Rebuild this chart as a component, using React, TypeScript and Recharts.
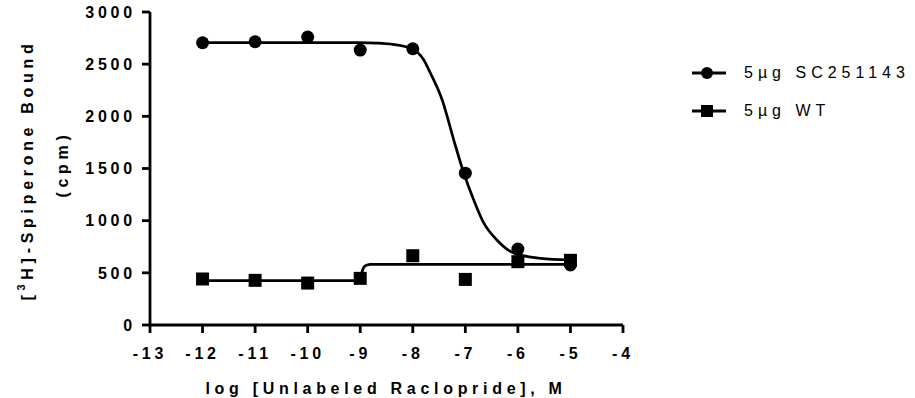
import React from 'react';
import { ComposedChart, Line, Scatter, XAxis, YAxis, Label } from 'recharts';

// measured points
const doses = [-12, -11, -10, -9, -8, -7, -6, -5];
const sc251143 = [2705, 2715, 2760, 2635, 2648, 1455, 728, 575];
const wildType = [441, 428, 402, 447, 664, 437, 607, 620];

// fitted curves
const scFitX = [-12, -9, -8.7, -8.43, -8.05, -7.79, -7.67, -7.44, -7.22, -7.03, -6.84, -6.65, -6.4, -6.08, -5.57, -5];
const scFitY = [2706, 2706, 2702, 2693, 2655, 2540, 2420, 2157, 1773, 1457, 1198, 978, 815, 690, 639, 623];
const wtFitX = [-12, -9, -8.97, -8.93, -8.87, -8.8, -5];
const wtFitY = [425, 425, 500, 555, 576, 582, 582];

const xTicks = [-13, -12, -11, -10, -9, -8, -7, -6, -5, -4];
const yTicks = [0, 500, 1000, 1500, 2000, 2500, 3000];

const seriesNames = ['5µg SC251143', '5µg WT'];

const scPoints = doses.map((x, i) => ({ x, y: sc251143[i] }));
const wtPoints = doses.map((x, i) => ({ x, y: wildType[i] }));
const scFit = scFitX.map((x, i) => ({ x, y: scFitY[i] }));
const wtFit = wtFitX.map((x, i) => ({ x, y: wtFitY[i] }));

const FONT = 'Arial, "Liberation Sans", Helvetica, sans-serif';

const CircleDot = (props: any) => <circle cx={props.cx} cy={props.cy} r={6.5} fill="#000" />;
const SquareDot = (props: any) => (
  <rect x={props.cx - 6.5} y={props.cy - 6.5} width={13} height={13} fill="#000" />
);

// legend sits outside the plot, right-hand side
function ChartLegend() {
  return (
    <div
      style={{
        position: 'absolute',
        left: 690,
        top: 54,
        fontFamily: FONT,
        fontSize: 16,
        letterSpacing: 5,
        color: '#000',
        whiteSpace: 'nowrap',
      }}
    >
      {seriesNames.map((name, i) => (
        <div key={name} style={{ display: 'flex', alignItems: 'center', height: 38 }}>
          <svg width={40} height={20} style={{ marginRight: 14 }}>
            <line x1={2} y1={10} x2={36} y2={10} stroke="#000" strokeWidth={3} />
            {i === 0 ? (
              <circle cx={17} cy={10} r={6} fill="#000" />
            ) : (
              <rect x={11} y={4} width={12} height={12} fill="#000" />
            )}
          </svg>
          <span>{name}</span>
        </div>
      ))}
    </div>
  );
}

const tickStyle = { fill: '#000', fontFamily: FONT, fontSize: 16, fontWeight: 'bold', letterSpacing: 3.8 };

export default function App() {
  return (
    <div style={{ position: 'absolute', left: 0, top: 0, width: 915, height: 398, background: '#fff' }}>
      <ComposedChart
        width={915}
        height={398}
        margin={{ top: 12, right: 292, left: 0, bottom: 0 }}
      >
        <XAxis
          type="number"
          dataKey="x"
          domain={[-13, -4]}
          ticks={xTicks}
          interval={0}
          allowDuplicatedCategory={false}
          height={73}
          stroke="#000"
          strokeWidth={2.8}
          tickSize={8}
          tickMargin={15}
          tickLine={{ stroke: '#000', strokeWidth: 2.8 }}
          tick={tickStyle}
        >
          <Label
            content={() => (
              <text
                x={386}
                y={394}
                textAnchor="middle"
                fontFamily={FONT}
                fontSize={16}
                fontWeight="bold"
                letterSpacing={4.7}
                fill="#000"
              >
                log [Unlabeled Raclopride], M
              </text>
            )}
          />
        </XAxis>
        <YAxis
          type="number"
          dataKey="y"
          domain={[0, 3000]}
          ticks={yTicks}
          interval={0}
          width={150}
          stroke="#000"
          strokeWidth={2.8}
          tickSize={8}
          tickMargin={6}
          tickLine={{ stroke: '#000', strokeWidth: 2.8 }}
          tick={tickStyle}
        >
          <Label
            content={() => (
              <g fontFamily={FONT} fontSize={16} fontWeight="bold" fill="#000" letterSpacing={4.7}>
                <text x={27} y={170} textAnchor="middle" dominantBaseline="central" transform="rotate(-90, 27, 170)">
                  [<tspan baselineShift="super" fontSize={11}>3</tspan>H]-Spiperone Bound
                </text>
                <text x={62} y={164} textAnchor="middle" dominantBaseline="central" transform="rotate(-90, 62, 164)">
                  (cpm)
                </text>
              </g>
            )}
          />
        </YAxis>
        <Line
          data={scFit}
          dataKey="y"
          name={seriesNames[0]}
          type="monotone"
          stroke="#000"
          strokeWidth={2.7}
          dot={false}
          activeDot={false}
          legendType="none"
          isAnimationActive={false}
        />
        <Line
          data={wtFit}
          dataKey="y"
          name={seriesNames[1]}
          type="monotone"
          stroke="#000"
          strokeWidth={2.7}
          dot={false}
          activeDot={false}
          legendType="none"
          isAnimationActive={false}
        />
        <Scatter data={scPoints} dataKey="y" name={seriesNames[0]} shape={CircleDot} isAnimationActive={false} />
        <Scatter data={wtPoints} dataKey="y" name={seriesNames[1]} shape={SquareDot} isAnimationActive={false} />
      </ComposedChart>
      <ChartLegend />
    </div>
  );
}
